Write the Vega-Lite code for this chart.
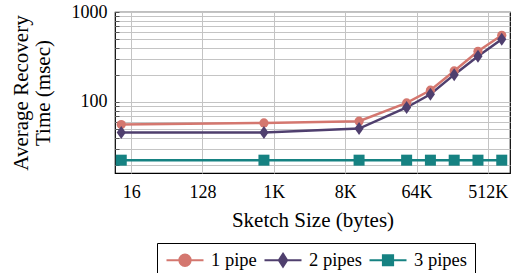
{
  "$schema": "https://vega.github.io/schema/vega-lite/v6.json",
  "width": 395,
  "height": 161,
  "autosize": "none",
  "padding": {"left": 115, "top": 12, "right": 3, "bottom": 100},
  "background": "white",
  "config": {
    "font": "Liberation Serif",
    "view": {"stroke": "black", "strokeWidth": 1.2},
    "axis": {
      "labelFont": "Liberation Serif",
      "labelFontSize": 18,
      "labelColor": "black",
      "titleFont": "Liberation Serif",
      "titleFontSize": 21,
      "titleFontWeight": "normal",
      "titleColor": "black",
      "gridColor": "#c4c4c4",
      "gridWidth": 1,
      "gridOpacity": 1,
      "domain": false,
      "ticks": false,
      "labelOverlap": false
    },
    "legend": {
      "labelFont": "Liberation Serif"
    }
  },
  "data": {
    "values": [
      {"size": 12, "time": 56.1, "series": "1 pipe"},
      {"size": 768, "time": 58.4, "series": "1 pipe"},
      {"size": 12288, "time": 61.1, "series": "1 pipe"},
      {"size": 49152, "time": 97.5, "series": "1 pipe"},
      {"size": 98304, "time": 134.9, "series": "1 pipe"},
      {"size": 196608, "time": 221, "series": "1 pipe"},
      {"size": 393216, "time": 366, "series": "1 pipe"},
      {"size": 786432, "time": 551, "series": "1 pipe"},
      {"size": 12, "time": 45.7, "series": "2 pipes"},
      {"size": 768, "time": 45.7, "series": "2 pipes"},
      {"size": 12288, "time": 50.6, "series": "2 pipes"},
      {"size": 49152, "time": 86.7, "series": "2 pipes"},
      {"size": 98304, "time": 121.8, "series": "2 pipes"},
      {"size": 196608, "time": 201, "series": "2 pipes"},
      {"size": 393216, "time": 322, "series": "2 pipes"},
      {"size": 786432, "time": 497, "series": "2 pipes"},
      {"size": 12, "time": 22.5, "series": "3 pipes"},
      {"size": 768, "time": 22.5, "series": "3 pipes"},
      {"size": 12288, "time": 22.5, "series": "3 pipes"},
      {"size": 49152, "time": 22.5, "series": "3 pipes"},
      {"size": 98304, "time": 22.5, "series": "3 pipes"},
      {"size": 196608, "time": 22.5, "series": "3 pipes"},
      {"size": 393216, "time": 22.5, "series": "3 pipes"},
      {"size": 786432, "time": 22.5, "series": "3 pipes"}
    ]
  },
  "encoding": {
    "x": {
      "field": "size",
      "type": "quantitative",
      "scale": {"type": "log", "base": 2, "domain": [10, 1000000], "nice": false},
      "axis": {
        "values": [16, 128, 1024, 8192, 65536, 524288],
        "labelExpr": "datum.value >= 1024 ? (datum.value / 1024) + 'K' : '' + datum.value",
        "title": "Sketch Size (bytes)",
        "grid": true,
        "labelPadding": 10,
        "titlePadding": 8
      }
    },
    "y": {
      "field": "time",
      "type": "quantitative",
      "scale": {"type": "log", "domain": [16.2, 1000], "nice": false},
      "axis": {
        "values": [20, 30, 40, 50, 60, 70, 80, 90, 100, 200, 300, 400, 500, 600, 700, 800, 900, 1000],
        "labelExpr": "datum.value == 100 || datum.value == 1000 ? '' + datum.value : ''",
        "title": ["Average Recovery", "Time (msec)"],
        "titleLineHeight": 22,
        "grid": true,
        "ticks": true,
        "tickSize": -4,
        "tickColor": "#555555",
        "labelPadding": 12,
        "titlePadding": 18
      }
    },
    "color": {
      "field": "series",
      "type": "nominal",
      "scale": {"domain": ["1 pipe", "2 pipes", "3 pipes"], "range": ["#d4776f", "#4f3f6e", "#168282"]},
      "legend": {
        "orient": "none",
        "legendX": 42,
        "legendY": 231,
        "direction": "horizontal",
        "title": null,
        "symbolSize": 1369,
        "symbolStrokeWidth": 2.2,
        "clipHeight": 18,
        "labelFontSize": 18.5,
        "labelColor": "black",
        "labelOffset": 6,
        "columnPadding": 6,
        "strokeColor": "black",
        "padding": 8,
        "fillColor": "white",
        "encode": {
          "symbols": {
            "update": {
              "shape": {"signal": "datum.value === '1 pipe' ? 'M-1,0H1M-0.3,0A0.3,0.3 0 1,0 0.3,0A0.3,0.3 0 1,0 -0.3,0Z' : datum.value === '2 pipes' ? 'M-1,0H1M0,-0.34L0.22,0L0,0.34L-0.22,0Z' : 'M-1,0H1M-0.27,-0.27H0.27V0.27H-0.27Z'"},
              "size": {"value": 1369},
              "fill": {"scale": "color", "field": "value"},
              "stroke": {"scale": "color", "field": "value"},
              "strokeWidth": {"value": 2.2},
              "opacity": {"value": 1}
            }
          }
        }
      }
    }
  },
  "layer": [
    {"mark": {"type": "line", "strokeWidth": 2.5, "clip": true}},
    {
      "transform": [{"filter": "datum.series === '1 pipe'"}],
      "mark": {"type": "point", "filled": true, "opacity": 1, "shape": "circle", "size": 85}
    },
    {
      "transform": [{"filter": "datum.series === '2 pipes'"}],
      "mark": {"type": "point", "filled": true, "opacity": 1, "shape": "M0,-1L0.7,0L0,1L-0.7,0Z", "size": 169}
    },
    {
      "transform": [{"filter": "datum.series === '3 pipes'"}],
      "mark": {"type": "point", "filled": true, "opacity": 1, "shape": "square", "size": 121}
    }
  ]
}
